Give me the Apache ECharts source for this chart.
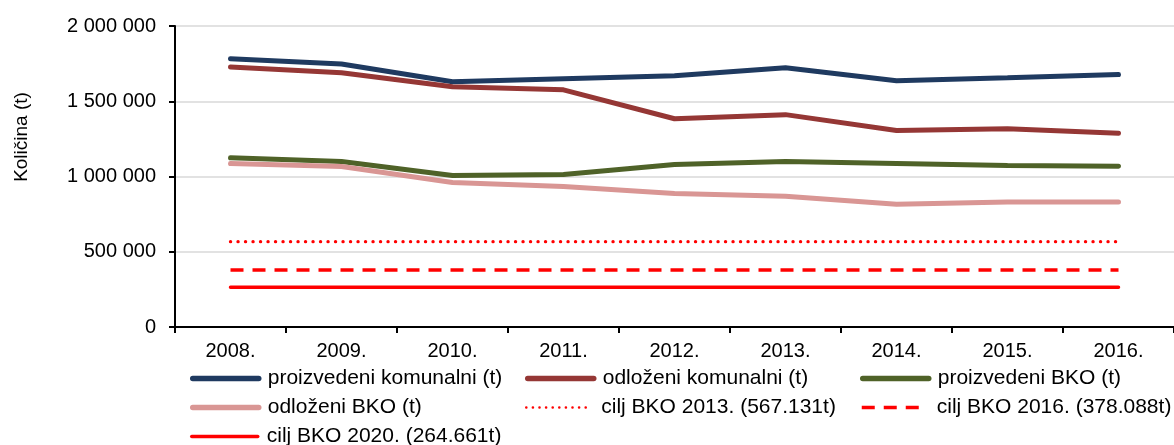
<!DOCTYPE html>
<html>
<head>
<meta charset="utf-8">
<script src="https://cdn.jsdelivr.net/npm/echarts@6/dist/echarts.min.js"></script>
<style>
html, body { margin: 0; padding: 0; background: #fff; }
#chart { width: 1174px; height: 445px; }
</style>
</head>
<body>
<div id="chart"></div>
<script>
var years = ['2008.', '2009.', '2010.', '2011.', '2012.', '2013.', '2014.', '2015.', '2016.'];
var proizvedeniKom = [1783000, 1748000, 1629000, 1649000, 1669000, 1722000, 1636000, 1656000, 1677000];
var odlozeniKom = [1728000, 1689000, 1596000, 1576000, 1384000, 1411000, 1305000, 1318000, 1287000];
var proizvedeniBko = [1124000, 1099000, 1007000, 1013000, 1079000, 1099000, 1086000, 1073000, 1068000];
var odlozeniBko = [1086000, 1066000, 960000, 934000, 887000, 868000, 815000, 830000, 830000];
var cilj2013 = [567131, 567131, 567131, 567131, 567131, 567131, 567131, 567131, 567131];
var cilj2016 = [378088, 378088, 378088, 378088, 378088, 378088, 378088, 378088, 378088];
var cilj2020 = [264661, 264661, 264661, 264661, 264661, 264661, 264661, 264661, 264661];

var names = ['proizvedeni komunalni (t)', 'odloženi komunalni (t)', 'proizvedeni BKO (t)',
  'odloženi BKO (t)', 'cilj BKO 2013. (567.131t)', 'cilj BKO 2016. (378.088t)',
  'cilj BKO 2020. (264.661t)'];

var chart = echarts.init(document.getElementById('chart'));
var font = 'Liberation Sans, Arial, sans-serif';

function fmt(v) {
  return String(v).replace(/\B(?=(\d{3})+(?!\d))/g, ' ');
}

function line(name, data, color, width, type, cap) {
  return {
    name: name,
    type: 'line',
    data: data,
    symbol: 'none',
    animation: false,
    lineStyle: { color: color, width: width, type: type || 'solid', cap: cap || 'round' },
    itemStyle: { color: color }
  };
}

// one legend per item so the three columns line up like the original
function legendItem(name, left, top, width, type, cap) {
  return {
    left: left + 3,
    top: top,
    padding: 0,
    itemWidth: 66,
    itemHeight: 14,
    data: [name],
    itemStyle: { opacity: 0 },
    lineStyle: { width: width, type: type || 'solid', cap: cap || 'round' },
    textStyle: { fontFamily: font, fontSize: 21, color: '#000', padding: [0, 0, 0, 4] }
  };
}

var option = {
  animation: false,
  grid: { left: 175, top: 26, bottom: 118, right: -12 },
  legend: [
    legendItem(names[0], 187, 368, 5.5),
    legendItem(names[1], 522, 368, 5.5),
    legendItem(names[2], 857, 368, 5.5),
    legendItem(names[3], 187, 397, 5.5),
    legendItem(names[4], 522, 397, 2.5, [0.1, 6.5], 'round'),
    legendItem(names[5], 857, 397, 3.5, [13, 9], 'butt'),
    legendItem(names[6], 187, 426, 3.5)
  ],
  graphic: [{
    type: 'text',
    x: 22,
    y: 137,
    rotation: Math.PI / 2,
    style: {
      text: 'Količina (t)',
      font: '19px ' + font,
      fill: '#000',
      textAlign: 'center',
      textVerticalAlign: 'middle'
    }
  }],
  xAxis: {
    type: 'category',
    data: years,
    boundaryGap: true,
    axisLine: { lineStyle: { color: '#000', width: 2 } },
    axisTick: { show: true, length: 6, lineStyle: { color: '#000', width: 2 } },
    axisLabel: { fontFamily: font, fontSize: 20, color: '#000', margin: 14 }
  },
  yAxis: {
    type: 'value',
    min: 0,
    max: 2000000,
    interval: 500000,
    axisLine: { show: true, lineStyle: { color: '#000', width: 2 } },
    axisTick: { show: true, length: 6, lineStyle: { color: '#000', width: 2 } },
    axisLabel: { fontFamily: font, fontSize: 20, color: '#000', margin: 19, formatter: fmt },
    splitLine: { lineStyle: { color: '#d9d9d9', width: 1.5 } }
  },
  series: [
    line(names[0], proizvedeniKom, '#1f3a60', 5),
    line(names[1], odlozeniKom, '#953735', 5),
    line(names[2], proizvedeniBko, '#4f6228', 5),
    line(names[3], odlozeniBko, '#d99694', 5),
    line(names[4], cilj2013, '#ff0000', 3.3, [0.1, 7.4], 'round'),
    line(names[5], cilj2016, '#ff0000', 3.5, [13, 9], 'butt'),
    line(names[6], cilj2020, '#ff0000', 3.5)
  ]
};
chart.setOption(option);
</script>
</body>
</html>
